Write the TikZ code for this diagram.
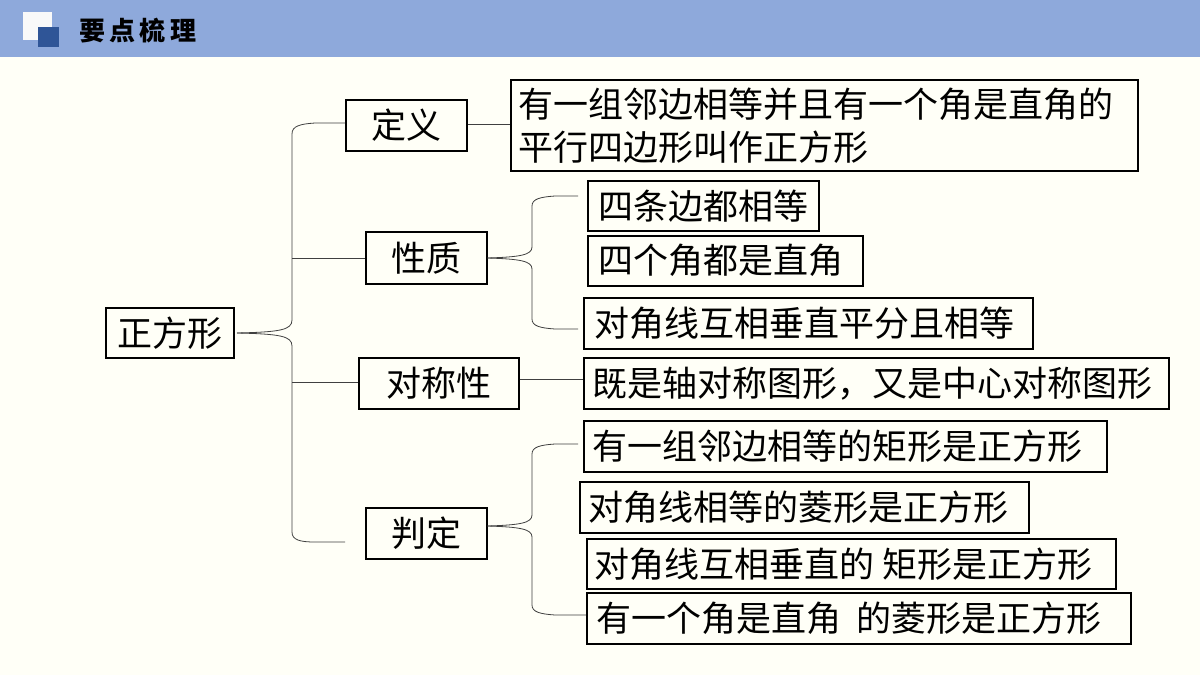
\documentclass[tikz,border=0pt]{standalone}
\usepackage{fontspec}
\newfontfamily\cjk{Noto Sans CJK SC}
\begin{document}
\begin{tikzpicture}[x=1pt,y=-1pt,
  bx/.style={draw=black,line width=1.5pt,inner sep=0pt,anchor=north west},
  tx/.style={font=\cjk\fontsize{35}{43}\selectfont,inner sep=0pt},
  lt/.style={tx,anchor=west},
  ln/.style={draw=black!75,line width=0.8pt}]
\useasboundingbox (0,0) rectangle (1200,675);
\fill[white!97!yellow] (0,0) rectangle (1200,675);
\fill[fill={rgb,255:red,142;green,169;blue,219}] (0,0) rectangle (1200,57);
\fill[white!95!gray] (23,12) rectangle (52,40);
\fill[fill={rgb,255:red,47;green,85;blue,151}] (38,27) rectangle (59,47);
\node[font=\cjk\bfseries\fontsize{26}{30}\selectfont,anchor=west,inner sep=0pt] (title) at (79,31) {要\,点\,梳\,理};
\node[bx,minimum width=128,minimum height=50] (zfx) at (105,307) {}; \node[tx] at (zfx.center) {正方形};
\node[bx,minimum width=121,minimum height=51] (dy) at (345,99) {}; \node[tx] at (dy.center) {定义};
\node[bx,minimum width=627,minimum height=91] (dyt) at (510,79) {}; \node[lt,align=left] at ([xshift=8pt]dyt.west) {有一组邻边相等并且有一个角是直角的\\平行四边形叫作正方形};
\node[bx,minimum width=121,minimum height=52] (xz) at (365,231) {}; \node[tx] at (xz.center) {性质};
\node[bx,minimum width=231,minimum height=50] (p1) at (587,180) {}; \node[lt] at ([xshift=11pt]p1.west) {四条边都相等};
\node[bx,minimum width=275,minimum height=50] (p2) at (587,235) {}; \node[lt] at ([xshift=11pt]p2.west) {四个角都是直角};
\node[bx,minimum width=449,minimum height=51] (p3) at (583,297) {}; \node[lt] at ([xshift=11pt]p3.west) {对角线互相垂直平分且相等};
\node[bx,minimum width=160,minimum height=51] (dcx) at (358,357) {}; \node[tx] at (dcx.center) {对称性};
\node[bx,minimum width=585,minimum height=51] (dct) at (583,357) {}; \node[lt] at ([xshift=9pt]dct.west) {既是轴对称图形，又是中心对称图形};
\node[bx,minimum width=121,minimum height=51] (pd) at (365,507) {}; \node[tx] at (pd.center) {判定};
\node[bx,minimum width=523,minimum height=51] (j1) at (583,420) {}; \node[lt] at ([xshift=9pt]j1.west) {有一组邻边相等的矩形是正方形};
\node[bx,minimum width=449,minimum height=51] (j2) at (579,481) {}; \node[lt] at ([xshift=9pt]j2.west) {对角线相等的菱形是正方形};
\node[bx,minimum width=529,minimum height=50] (j3) at (586,538) {}; \node[lt] at ([xshift=8pt]j3.west) {对角线互相垂直的\ 矩形是正方形};
\node[bx,minimum width=544,minimum height=51] (j4) at (586,592) {}; \node[lt] at ([xshift=10pt]j4.west) {有一个角是直角\ \ 的菱形是正方形};
% main brace
\coordinate (mt) at (237,333); \coordinate (me) at (345,542);
\draw[ln] (mt) .. controls (280,332) and (292,330) .. (292,320) -- (292,134) .. controls (292,126) and (300,124) .. (315,123) -- (dy.west |- 0,123);
\draw[ln] (mt) .. controls (280,334) and (292,336) .. (292,346) -- (292,532) .. controls (292,540) and (300,542) .. (315,542) -- (me);
\draw[ln] (292,258) -- (xz.west |- 0,258);
\draw[ln] (292,382) -- (dcx.west |- 0,382);
\draw[ln] (dy.east |- 0,124) -- (dyt.west |- 0,124);
\draw[ln] (dcx.east |- 0,379) -- (dct.west |- 0,379);
% property brace
\coordinate (pt1) at (578,196); \coordinate (pt3) at (578,329);
\draw[ln] (xz.east |- 0,258) .. controls (520,257) and (532,255) .. (532,247) -- (532,206) .. controls (532,199) and (540,197) .. (555,196) -- (pt1);
\draw[ln] (xz.east |- 0,258) .. controls (520,259) and (532,261) .. (532,269) -- (532,319) .. controls (532,326) and (540,328) .. (555,329) -- (pt3);
% judgement brace
\coordinate (jt1) at (578,444); \coordinate (jt4) at (586,615);
\draw[ln] (pd.east |- 0,526) .. controls (520,525) and (532,523) .. (532,515) -- (532,454) .. controls (532,447) and (540,445) .. (555,444) -- (jt1);
\draw[ln] (pd.east |- 0,526) .. controls (520,527) and (532,529) .. (532,537) -- (532,605) .. controls (532,612) and (540,614) .. (555,615) -- (jt4);
\end{tikzpicture}
\end{document}
